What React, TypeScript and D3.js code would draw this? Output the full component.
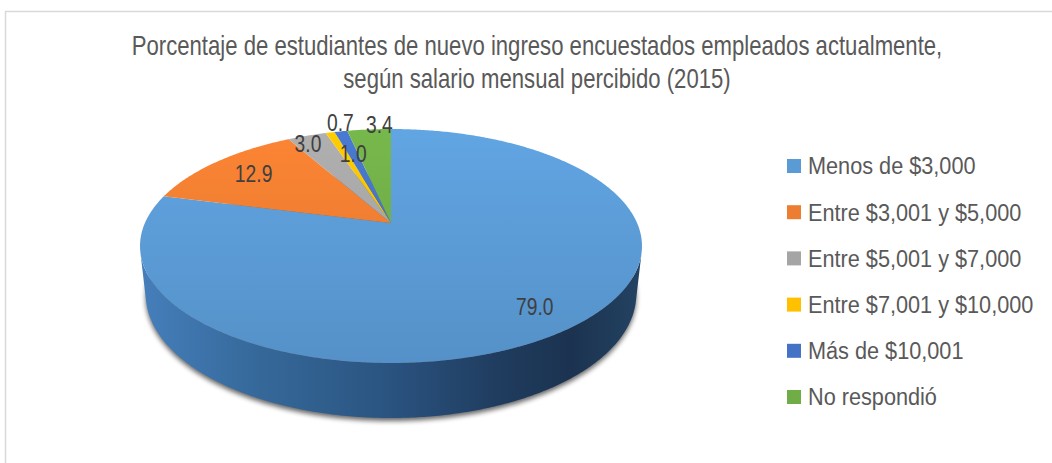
import React from 'react';
import * as d3 from 'd3';

// --- data ---
const categories = [
  'Menos de $3,000',
  'Entre $3,001 y $5,000',
  'Entre $5,001 y $7,000',
  'Entre $7,001 y $10,000',
  'Más de $10,001',
  'No respondió'
];
const values = [79.0, 12.9, 3.0, 0.7, 1.0, 3.4];
const titleLines = [
  'Porcentaje de estudiantes de nuevo ingreso encuestados empleados actualmente,',
  'según salario mensual percibido (2015)'
];

const colors = ['#5b9bd5', '#ed7d31', '#a5a5a5', '#ffc000', '#4472c4', '#70ad47'];
// where each data label sits: [radius factor, angle nudge in degrees]
const labelPlacement = [[0.83, 0], [0.77, 0], [0.9, -2], [1.1, 4], [0.72, 0], [1.05, 3]];

const W = 1052;
const H = 463;
// no narrow face installed, so the text is squeezed horizontally instead
const FONT = '"Liberation Sans", Arial, sans-serif';

// camera for the tilted 3D pie (distance to pie centre = 1)
const cam = {cx: 391, cy: 223, f: 1113, r: 0.2211, h: 0.0491, sinA: 0.457, cosA: 0.889};

function project(a: number, rho: number, bottom: boolean): [number, number]
{
  const x = rho * cam.r * Math.sin(a);
  const z = rho * cam.r * Math.cos(a);
  const y = bottom ? -cam.h : 0;
  const Y = z * cam.sinA + y * cam.cosA;
  const Z = 1 + z * cam.cosA - y * cam.sinA;
  return [cam.cx + cam.f * x / Z, cam.cy - cam.f * Y / Z];
}

function arcPoints(a0: number, a1: number, bottom: boolean)
{
  const n = Math.max(2, Math.ceil(Math.abs(a1 - a0) / 0.01));
  return d3.range(n + 1).map(i => project(a0 + (a1 - a0) * i / n, 1, bottom));
}

export default function App()
{
  const line = d3.line();
  const arcs = d3.pie<number>().sort(null).startAngle(0).endAngle(2 * Math.PI)(values);
  const fmt = d3.format('.1f');

  // silhouette generators of the cylinder as seen from the camera
  const zt = -cam.r / cam.cosA;
  const aSil = Math.acos(Math.max(-1, zt));
  const wallTop = arcPoints(aSil, 2 * Math.PI - aSil, false);
  const wallBottom = arcPoints(2 * Math.PI - aSil, aSil, true);
  const wallPath = line([...wallTop, ...wallBottom]) + 'Z';
  const bottomEllipse = line(arcPoints(0, 2 * Math.PI, true)) + 'Z';

  const topY0 = project(0, 1, false)[1];
  const topY1 = project(Math.PI, 1, false)[1];
  const leftX = project(1.5 * Math.PI, 1, false)[0] - 12;
  const rightX = project(0.5 * Math.PI, 1, false)[0] + 12;

  const legendY = d3.scaleLinear().domain([0, categories.length - 1]).range([166, 397]);

  return (
    <svg width={W} height={H} style={{position: 'absolute', left: 0, top: 0, display: 'block'}}
         fontFamily={FONT}>
      <defs>
        <filter id="shadowBlur" x="-10%" y="-10%" width="120%" height="130%">
          <feGaussianBlur stdDeviation="2.5"/>
        </filter>
        <linearGradient id="wallGrad" gradientUnits="userSpaceOnUse" x1={leftX} x2={rightX} y1={0} y2={0}>
          <stop offset="0" stopColor="#4680bd"/>
          <stop offset="0.25" stopColor="#356899"/>
          <stop offset="0.5" stopColor="#2a5380"/>
          <stop offset="0.72" stopColor="#1f3b5d"/>
          <stop offset="0.85" stopColor="#1b3350"/>
          <stop offset="1" stopColor="#254465"/>
        </linearGradient>
        {colors.map((c, i) => (
          <linearGradient key={i} id={'topGrad' + i} gradientUnits="userSpaceOnUse"
                          x1={0} x2={0} y1={topY0} y2={topY1}>
            <stop offset="0" stopColor={d3.color(c)!.brighter(0.18).formatHex()}/>
            <stop offset="1" stopColor={d3.color(c)!.darker(0.18).formatHex()}/>
          </linearGradient>
        ))}
      </defs>

      <rect x={0} y={0} width={W} height={H} fill="#ffffff"/>
      <path d={`M5.5,${H}V11.5H${W}`} fill="none" stroke="#d9d9d9" strokeWidth={1.5}/>

      {titleLines.map((t, i) => (
        <text key={i} transform={`translate(537,${54.5 + i * 33.5}) scale(0.82,1)`}
              textAnchor="middle" fontSize={27} fill="#595959">{t}</text>
      ))}

      {/* shadow, side wall, then the slices on top */}
      <path d={bottomEllipse} fill="#000" opacity={0.6} transform="translate(0,3)" filter="url(#shadowBlur)"/>
      <path d={wallPath} fill="url(#wallGrad)"/>
      {arcs.map((d, i) => (
        <path key={i}
              d={line([[cam.cx, cam.cy], ...arcPoints(d.startAngle, d.endAngle, false)]) + 'Z'}
              fill={`url(#topGrad${i})`}/>
      ))}

      {arcs.map((d, i) => {
        const [rho, nudge] = labelPlacement[i];
        const [x, y] = project((d.startAngle + d.endAngle) / 2 + nudge * Math.PI / 180, rho, false);
        return (
          <text key={i} transform={`translate(${x},${y}) scale(0.82,1)`} textAnchor="middle"
                dominantBaseline="central" fontSize={23.5} fill="#404040">{fmt(d.data)}</text>
        );
      })}

      {categories.map((c, i) => (
        <g key={i} transform={`translate(787,${legendY(i)})`}>
          <rect x={0} y={-7} width={14} height={14} fill={colors[i]}/>
          <text transform="translate(21,0) scale(0.885,1)" dominantBaseline="central"
                fontSize={24.5} fill="#595959">{c}</text>
        </g>
      ))}
    </svg>
  );
}
